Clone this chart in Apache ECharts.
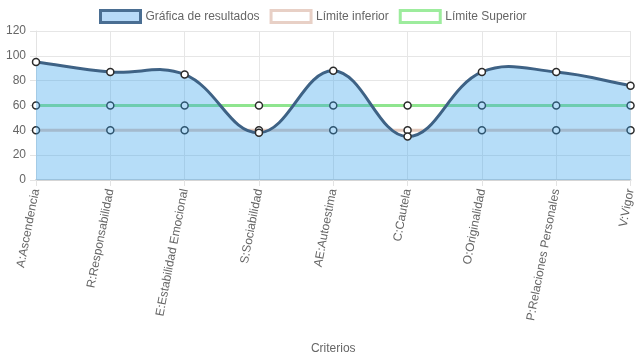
<!DOCTYPE html>
<html>
<head>
<meta charset="utf-8">
<script src="https://cdn.jsdelivr.net/npm/echarts@6/dist/echarts.min.js"></script>
<style>
html,body{margin:0;padding:0;background:#fff;}
#chart{width:637px;height:359px;}
</style>
</head>
<body>
<div id="chart"></div>
<script>
const categories = ['A:Ascendencia','R:Responsabilidad','E:Estabilidad Emocional','S:Sociabilidad','AE:Autoestima','C:Cautela','O:Originalidad','P:Relaciones Personales','V:Vigor'];
const resultados = [95, 87, 85, 38, 88, 35, 87, 87, 76];
const limiteInferior = [40, 40, 40, 40, 40, 40, 40, 40, 40];
const limiteSuperior = [60, 60, 60, 60, 60, 60, 60, 60, 60];
const yTicks = {min: 0, max: 120, interval: 20};

const FONT = '"Liberation Sans", Arial, sans-serif';
const TENSION = 0.4;
const chart = echarts.init(document.getElementById('chart'), null, {renderer: 'canvas'});
const pointStyle = {color: '#ffffff', borderColor: '#2b2b2b', borderWidth: 1.5};

// Cardinal spline (tension 0.4) through pixel points obtained from the axes
function splinePath(pts) {
  const n = pts.length;
  const cps = pts.map((cur, i) => {
    const prev = pts[i - 1] || cur, next = pts[i + 1] || cur;
    const d01 = Math.hypot(cur[0] - prev[0], cur[1] - prev[1]);
    const d12 = Math.hypot(next[0] - cur[0], next[1] - cur[1]);
    let s01 = d01 / (d01 + d12), s12 = d12 / (d01 + d12);
    if (!isFinite(s01)) s01 = 0;
    if (!isFinite(s12)) s12 = 0;
    const fa = TENSION * s01, fb = TENSION * s12;
    return {
      prev: [cur[0] - fa * (next[0] - prev[0]), cur[1] - fa * (next[1] - prev[1])],
      next: [cur[0] + fb * (next[0] - prev[0]), cur[1] + fb * (next[1] - prev[1])]
    };
  });
  let d = 'M' + pts[0][0] + ',' + pts[0][1];
  for (let i = 1; i < n; i++) {
    const c1 = cps[i - 1].next, c2 = cps[i].prev;
    d += ' C' + c1[0] + ',' + c1[1] + ' ' + c2[0] + ',' + c2[1] + ' ' + pts[i][0] + ',' + pts[i][1];
  }
  return d;
}

function renderCurve(params, api) {
  const pts = resultados.map((v, i) => api.coord([i, v]));
  const base0 = api.coord([0, 0]);
  const baseN = api.coord([resultados.length - 1, 0]);
  const line = splinePath(pts);
  const area = line + ' L' + baseN[0] + ',' + baseN[1] + ' L' + base0[0] + ',' + base0[1] + ' Z';
  return {
    type: 'group',
    children: [
      {type: 'path', shape: {pathData: area}, style: {fill: 'rgba(54,162,235,0.36)', stroke: null}},
      {type: 'path', shape: {pathData: line}, style: {fill: null, stroke: '#3e6285', lineWidth: 3, lineJoin: 'round'}}
    ]
  };
}

chart.setOption({
  animation: false,
  textStyle: {fontFamily: FONT},
  legend: {
    left: 99, top: 9, padding: 0,
    itemWidth: 40, itemHeight: 12, itemGap: 10,
    textStyle: {color: '#666', fontSize: 12, fontFamily: FONT},
    data: [
      {name: 'Gráfica de resultados', icon: 'rect', itemStyle: {color: '#b8daf8', borderColor: '#4a6e92', borderWidth: 3}},
      {name: 'Límite inferior', icon: 'rect', itemStyle: {color: '#ffffff', borderColor: '#e8d0c6', borderWidth: 3}},
      {name: 'Límite Superior', icon: 'rect', itemStyle: {color: '#ffffff', borderColor: '#9dec9d', borderWidth: 3}}
    ]
  },
  grid: {left: 36, right: 3, top: 31, bottom: 179, containLabel: false},
  xAxis: {
    type: 'category',
    data: categories,
    boundaryGap: false,
    name: 'Criterios',
    nameLocation: 'middle',
    nameGap: 163,
    nameTextStyle: {color: '#666', fontSize: 12, fontFamily: FONT},
    axisLine: {show: true, lineStyle: {color: '#d5d5d5', width: 2}},
    axisTick: {show: true, length: 6, lineStyle: {color: '#e3e3e3'}},
    axisLabel: {rotate: 79, color: '#666', fontSize: 12, margin: 9, fontFamily: FONT, interval: 0},
    splitLine: {show: true, lineStyle: {color: '#e6e6e6', width: 1}}
  },
  yAxis: {
    type: 'value',
    min: yTicks.min, max: yTicks.max, interval: yTicks.interval,
    axisLine: {show: true, lineStyle: {color: '#e3e3e3', width: 1}},
    axisTick: {show: true, length: 6, lineStyle: {color: '#e3e3e3'}},
    axisLabel: {color: '#666', fontSize: 12, margin: 10, fontFamily: FONT},
    splitLine: {show: true, lineStyle: {color: '#e6e6e6', width: 1}}
  },
  series: [
    {
      name: 'Límite inferior', type: 'line', data: limiteInferior, z: 2,
      symbol: 'circle', symbolSize: 7, showAllSymbol: true,
      lineStyle: {color: '#e3c9bd', width: 3},
      itemStyle: pointStyle
    },
    {
      name: 'Límite Superior', type: 'line', data: limiteSuperior, z: 2,
      symbol: 'circle', symbolSize: 7, showAllSymbol: true,
      lineStyle: {color: '#8fe58f', width: 3},
      itemStyle: pointStyle
    },
    {
      name: 'Gráfica de resultados curve', type: 'custom', z: 3,
      coordinateSystem: 'cartesian2d',
      data: [[0, resultados[0]]],
      renderItem: renderCurve,
      silent: true
    },
    {
      name: 'Gráfica de resultados', type: 'line', data: resultados, z: 4,
      symbol: 'circle', symbolSize: 7, showAllSymbol: true,
      lineStyle: {opacity: 0, width: 0},
      itemStyle: pointStyle
    }
  ]
});
</script>
</body>
</html>
